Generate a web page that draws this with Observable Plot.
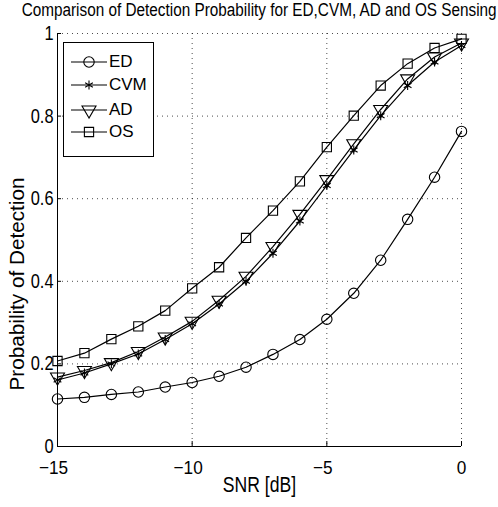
<!DOCTYPE html>
<html>
<head>
<meta charset="utf-8">
<script src="https://cdn.jsdelivr.net/npm/d3@7"></script>
<script src="https://cdn.jsdelivr.net/npm/@observablehq/plot@0.6"></script>
<style>
  body { margin: 0; background: #fff; }
  #wrap { position: relative; width: 498px; height: 507px; overflow: hidden; font-family: "Liberation Sans", Arial, sans-serif; }
  #title { position: relative; height: 22px; color: #000; }
  #title span { position: absolute; top: 0; line-height: 20px; white-space: nowrap; font-size: 18px; transform-origin: 50% 50%; }
  #legend { position: absolute; left: 63px; top: 42px; width: 89px; height: 113px; border: 1px solid #000; background: #fff; }
  .row { position: absolute; left: 0; height: 24px; width: 89px; }
  .row svg { position: absolute; left: 6px; top: 0; }
  .row span { position: absolute; left: 45px; top: 0; line-height: 24px; font-size: 17px; color: #000; }
</style>
</head>
<body>
<div id="wrap">
  <div id="title"><span id="titleText"></span></div>
  <div id="chart"></div>
  <div id="legend"></div>
</div>
<script>
const snr = [-15, -14, -13, -12, -11, -10, -9, -8, -7, -6, -5, -4, -3, -2, -1, 0];
const ed  = [0.115, 0.119, 0.126, 0.132, 0.144, 0.155, 0.170, 0.192, 0.223, 0.259, 0.308, 0.371, 0.451, 0.550, 0.652, 0.763];
const cvm = [0.161, 0.178, 0.200, 0.224, 0.259, 0.297, 0.345, 0.400, 0.468, 0.546, 0.632, 0.718, 0.801, 0.874, 0.931, 0.971];
const ad  = [0.168, 0.184, 0.203, 0.230, 0.265, 0.303, 0.354, 0.412, 0.484, 0.562, 0.646, 0.733, 0.816, 0.890, 0.943, 0.977];
const os  = [0.207, 0.226, 0.260, 0.291, 0.329, 0.383, 0.434, 0.505, 0.571, 0.642, 0.725, 0.801, 0.874, 0.927, 0.965, 0.987];
const seriesNames = ["ED", "CVM", "AD", "OS"];
const seriesSymbols = ["circle", "asterisk", "triangle", "square"];
const xTicks = [-15, -10, -5, 0];
const yTicks = [0, 0.2, 0.4, 0.6, 0.8, 1];
const title = "Comparison of Detection Probability for ED,CVM, AD and OS Sensing";
const xLabel = "SNR [dB]";
const yLabel = "Probability of Detection";

const values = [ed, cvm, ad, os];
const font = '"Liberation Sans", Arial, sans-serif';
const fmt = d => d < 0 ? "\u2212" + (-d) : String(d);

const seriesMarks = [];
values.forEach((vals, i) => {
  const data = snr.map((x, j) => ({x, y: vals[j]}));
  seriesMarks.push(Plot.line(data, {x: "x", y: "y", stroke: "#000", strokeWidth: 1.2}));
  const opts = {x: "x", y: "y", symbol: seriesSymbols[i], r: i === 1 ? 4.2 : 5.2, stroke: "#000", fill: "none", strokeWidth: 1.1};
  if (seriesSymbols[i] === "triangle") opts.rotate = 180;
  seriesMarks.push(Plot.dot(data, opts));
});

const chart = Plot.plot({
  width: 498,
  height: 485,
  marginLeft: 57,
  marginRight: 37,
  marginTop: 11,
  marginBottom: 61,
  style: {fontFamily: font, color: "#000", background: "#fff", overflow: "visible"},
  x: {domain: [-15, 0]},
  y: {domain: [0, 1]},
  marks: [
    Plot.gridX({ticks: xTicks, stroke: "#000", strokeOpacity: 0.7, strokeDasharray: "1,4"}),
    Plot.gridY({ticks: yTicks, stroke: "#000", strokeOpacity: 0.7, strokeDasharray: "1,4"}),
    Plot.ruleX(xTicks, {y1: 0, y2: 0.012, stroke: "#000"}),
    Plot.ruleY(yTicks, {x1: -15, x2: -14.85, stroke: "#000"}),
    Plot.ruleX([-15], {stroke: "#000"}),
    Plot.ruleY([0], {stroke: "#000"}),
    Plot.axisX({ticks: xTicks, tickSize: 0, tickPadding: 14, tickFormat: fmt, fontSize: 18.5, label: null, className: "xt"}),
    Plot.axisY({ticks: yTicks, tickSize: 0, tickPadding: 4, tickFormat: fmt, fontSize: 20, label: null, className: "yt"}),
    Plot.text([xLabel], {frameAnchor: "bottom", dy: 45, fontSize: 22, className: "xl"}),
    Plot.text([yLabel], {frameAnchor: "left", textAnchor: "middle", rotate: -90, dx: -40, dy: 44, fontSize: 20, className: "yl"}),
    ...seriesMarks
  ]
});
document.getElementById("chart").appendChild(chart);

// horizontal text compression to match the reference's condensed glyphs
function squeeze(sel, factor) {
  chart.querySelectorAll(sel).forEach(t => {
    const w = t.getComputedTextLength();
    t.setAttribute("textLength", (w * factor).toFixed(2));
    t.setAttribute("lengthAdjust", "spacingAndGlyphs");
  });
}
squeeze(".yt text", 0.82);
squeeze(".xt text", 0.93);
squeeze(".xl text", 0.8);
chart.querySelectorAll(".xt text").forEach(t => {
  if (t.textContent.startsWith("\u2212")) t.setAttribute("dx", "-4");
});
chart.querySelectorAll(".yl text").forEach(t => {
  t.setAttribute("textLength", "213");
  t.setAttribute("lengthAdjust", "spacingAndGlyphs");
});

// title: centred over the frame, condensed to the reference width
const tt = document.getElementById("titleText");
tt.textContent = title;
const tw = tt.getBoundingClientRect().width;
tt.style.left = (259.5 - tw / 2).toFixed(1) + "px";
tt.style.transform = `scaleX(${(475 / tw).toFixed(4)})`;

// legend
const legend = document.getElementById("legend");
const rowTops = [7, 30, 55, 77];
seriesNames.forEach((name, i) => {
  const row = document.createElement("div");
  row.className = "row";
  row.style.top = rowTops[i] + "px";
  const r = i === 1 ? 4.2 : 5.2;
  const sym = {circle: d3.symbolCircle, asterisk: d3.symbolAsterisk, triangle: d3.symbolTriangle, square: d3.symbolSquare}[seriesSymbols[i]];
  const path = d3.symbol(sym, r * r * Math.PI)();
  const rot = seriesSymbols[i] === "triangle" ? " rotate(180)" : "";
  row.innerHTML = `<svg width="40" height="24"><line x1="1" x2="37" y1="12" y2="12" stroke="#000" stroke-width="1.2"/><path d="${path}" transform="translate(19,12)${rot}" fill="none" stroke="#000" stroke-width="1.1"/></svg><span>${name}</span>`;
  legend.appendChild(row);
});
</script>
</body>
</html>
